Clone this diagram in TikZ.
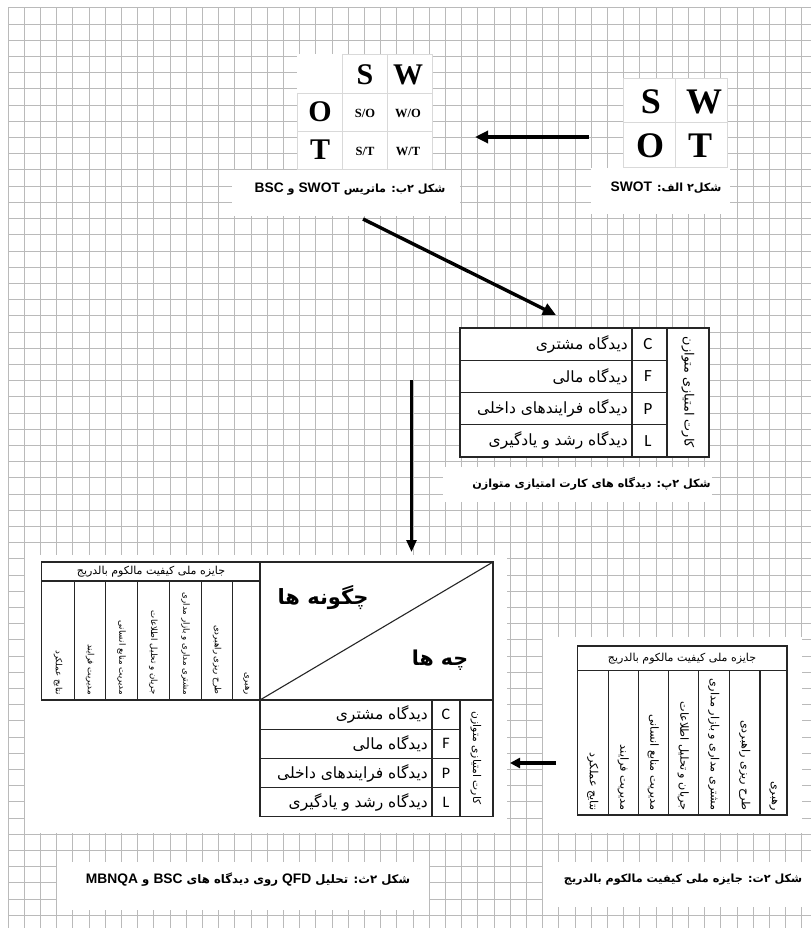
\documentclass[tikz,border=0pt]{standalone}
\usepackage{fontspec}
\setmainfont{Liberation Sans}
\newfontfamily\fa[Script=Arabic]{DejaVu Sans}
\newfontfamily\tnr{Liberation Serif}
\newfontfamily\cbr{Carlito}
\TeXXeTstate=1
\usetikzlibrary{positioning,arrows.meta,calc}
\newcommand\rtl[1]{{\fa\beginR #1\endR}}
\newcommand\ltr[1]{\beginL{\rmfamily\fontsize{13.8}{14}\selectfont #1}\endL{}}

\begin{document}
\begin{tikzpicture}[x=1pt, y=-1pt,
  grid/.style={black!27, line width=1pt},
  xl/.style={draw=black!15, line width=0.8pt},
  tb/.style={draw=black!85, line width=1.1pt},
  swot/.style={font=\tnr\bfseries\fontsize{36}{36}\selectfont, inner sep=0pt},
  swotm/.style={font=\tnr\bfseries\fontsize{30}{30}\selectfont, inner sep=0pt},
  swotsm/.style={font=\tnr\bfseries\fontsize{12.5}{12.5}\selectfont, inner sep=0pt},
  capn/.style={font=\fa\bfseries\fontsize{11.2}{13}\selectfont, inner sep=0pt},
  rowtxt/.style={font=\fa\fontsize{15.5}{17}\selectfont, anchor=east, inner sep=0pt},
  lettr/.style={font=\cbr\fontsize{17}{17}\selectfont, inner sep=0pt},
  vhead/.style={font=\fa\fontsize{12.8}{14}\selectfont, rotate=-90, inner sep=0pt},
  colt/.style={font=\fa\fontsize{11.2}{13}\selectfont, rotate=-90, anchor=east, inner sep=0pt},
  arr/.style={-{Triangle[length=13pt,width=12pt]}, line width=3.2pt},
]
\useasboundingbox (0,0) rectangle (811,928);
\begin{scope}
\clip (0,0) rectangle (811,928);
\foreach \i in {0,...,49} \draw[grid] ({8+16.2*\i},8) -- ({8+16.2*\i},928);
\foreach \j in {0,...,56} \draw[grid] (8,{8+16.2*\j}) -- (811,{8+16.2*\j});
\end{scope}
\foreach \a/\b/\c/\d in {297/54/432/169, 232/170/460/216, 623/78/727/167, 591/168/730/214,
  460/328/709/457, 443/467/712/502, 25/555/507/833, 543/637/802/833, 57/862/429/910, 543/862/811/907}
  \fill[white] (\a,\b) rectangle (\c,\d);

\draw[xl] (623,78) rectangle (727,167);
\draw[xl] (675,78) -- (675,167);
\draw[xl] (623,122.5) -- (727,122.5);
\node[swot] (sa) at (651,102) {S};
\node[swot] (wa) at (704,102) {W};
\node[swot] (oa) at (650,146) {O};
\node[swot] (ta) at (700,146) {T};
\node[capn] (capa) at (666,188) {\rtl{شکل۲ الف: \ltr{SWOT}}};

\draw[xl] (342,54) -- (432,54);
\foreach \y in {93,131,169} \draw[xl] (297,\y) -- (432,\y);
\draw[xl] (297,93) -- (297,169);
\foreach \x in {342,387,432} \draw[xl] (\x,54) -- (\x,169);
\node[swotm] (sb) at (365,75) {S};
\node[swotm] (wb) at (408,75) {W};
\node[swotm] (ob) at (320,112) {O};
\node[swotm] (tbb) at (320,150) {T};
\node[swotsm] (so) at (365,113) {S/O};
\node[swotsm] (wo) at (408,113) {W/O};
\node[swotsm] (st) at (365,151) {S/T};
\node[swotsm] (wt) at (408,151) {W/T};
\node[capn] (capb) at (350,189) {\rtl{شکل ۲ب: ماتریس \ltr{SWOT} و \ltr{BSC}}};

\draw[tb] (460,328) rectangle (709,457);
\foreach \y in {360.25,392.5,424.75} \draw[tb] (460,\y) -- (667,\y);
\draw[tb] (632,328) -- (632,457);
\draw[tb] (667,328) -- (667,457);
\foreach \t/\l [count=\k from 0] in {دیدگاه مشتری/C, دیدگاه مالی/F, دیدگاه فرایندهای داخلی/P, دیدگاه رشد و یادگیری/L} {
  \node[rowtxt] (pt\k) at (628,{344.1+32.25*\k}) {\rtl{\t}};
  \node[lettr] (pl\k) at (648,{344.1+32.25*\k}) {\l};
}
\node[vhead] (ph) at (688,392.5) {\rtl{کارت امتیازی متوازن}};
\node[capn] (capp) at (591.5,484) {\rtl{شکل ۲پ: دیدگاه های کارت امتیازی متوازن}};

\draw[tb] (260,562) rectangle (493,700);
\draw[tb] (260,700) -- (493,562);
\node[font=\fa\bfseries\fontsize{21}{23}\selectfont, inner sep=0pt] (how) at (323,598) {\rtl{چگونه ها}};
\node[font=\fa\bfseries\fontsize{20.5}{23}\selectfont, inner sep=0pt] (what) at (440,660) {\rtl{چه ها}};
\draw[tb] (41.7,562) rectangle (260,700);
\draw[tb] (41.7,581) -- (260,581);
\foreach \x in {74.3,105.7,137.3,169.3,201.7,232.7} \draw[tb] (\x,581) -- (\x,700);
\node[font=\fa\fontsize{11}{12}\selectfont, inner sep=0pt] (qh) at (151,571.5) {\rtl{جایزه ملی کیفیت مالکوم بالدریج}};
\foreach \x/\t [count=\k] in {246.3/رهبری, 217.2/طرح ریزی راهبردی, 185.5/مشتری مداری و بازار مداری, 153.3/جریان و تحلیل اطلاعات,
  121.5/مدیریت منابع انسانی, 90/مدیریت فرایند, 58/نتایج عملکرد}
  \node[colt, font=\fa\fontsize{8.6}{10}\selectfont] (qm\k) at (\x,695) {\rtl{\t}};
\draw[tb] (260,700) rectangle (493,816.7);
\foreach \y in {729.2,758.4,787.5} \draw[tb] (260,\y) -- (460,\y);
\draw[tb] (432,700) -- (432,816.7);
\draw[tb] (460,700) -- (460,816.7);
\foreach \t/\l [count=\k from 0] in {دیدگاه مشتری/C, دیدگاه مالی/F, دیدگاه فرایندهای داخلی/P, دیدگاه رشد و یادگیری/L} {
  \node[rowtxt] (qt\k) at (428,{714.6+29.2*\k}) {\rtl{\t}};
  \node[lettr, font=\cbr\fontsize{16}{16}\selectfont] (ql\k) at (446,{714.6+29.2*\k}) {\l};
}
\node[vhead, font=\fa\fontsize{10.7}{12}\selectfont] (qv) at (476,758) {\rtl{کارت امتیازی متوازن}};
\node[capn, font=\fa\bfseries\fontsize{11.7}{13}\selectfont] (capth) at (248,880) {\rtl{شکل ۲ث: تحلیل \ltr{QFD} روی دیدگاه های \ltr{BSC} و \ltr{MBNQA}}};

\draw[tb] (577.3,646) rectangle (787,815);
\draw[tb] (577.3,670.7) -- (787,670.7);
\foreach \x in {608.3,638.3,668.3,698.3,729.3,760} \draw[tb] (\x,670.7) -- (\x,815);
\node[font=\fa\fontsize{11}{12}\selectfont, inner sep=0pt] (mh) at (682,658.5) {\rtl{جایزه ملی کیفیت مالکوم بالدریج}};
\foreach \x/\t [count=\k] in {773.5/رهبری, 744.7/طرح ریزی راهبردی, 713.8/مشتری مداری و بازار مداری, 683.3/جریان و تحلیل اطلاعات,
  653.3/مدیریت منابع انسانی, 623.3/مدیریت فرایند, 592.8/نتایج عملکرد}
  \node[colt] (mm\k) at (\x,811) {\rtl{\t}};
\node[capn] (capt) at (683,880) {\rtl{شکل ۲ت: جایزه ملی کیفیت مالکوم بالدریج}};

\coordinate (a1s) at (589,137); \coordinate (a1e) at (475,137);
\coordinate (a2s) at (363,219); \coordinate (a2e) at (556,315);
\coordinate (a3s) at (411.5,380); \coordinate (a3e) at (411.5,552);
\coordinate (a4s) at (556,763); \coordinate (a4e) at (510,763);
\draw[arr] (a1s) -- (a1e);
\draw[arr, line width=3.4pt] (a2s) -- (a2e);
\draw[arr, line width=2.7pt, -{Triangle[length=12pt,width=10pt]}] (a3s) -- (a3e);
\draw[arr, line width=3.8pt, -{Triangle[length=10pt,width=10pt]}] (a4s) -- (a4e);
\end{tikzpicture}
\end{document}
